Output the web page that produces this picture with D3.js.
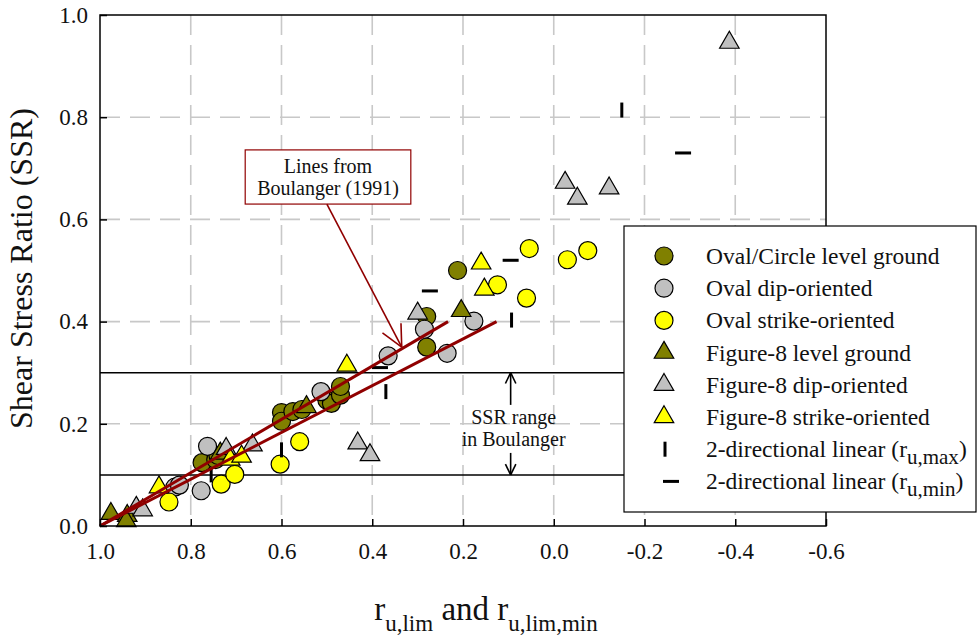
<!DOCTYPE html>
<html>
<head>
<meta charset="utf-8">
<script src="https://cdn.jsdelivr.net/npm/d3@7"></script>
<style>
  body { margin: 0; background: #fff; }
  svg text { font-family: "Liberation Serif", "Times New Roman", serif; fill: #111; }
</style>
</head>
<body>
<svg id="chart" width="978" height="643"></svg>
<script>
// ---- data: [r_u,lim , SSR] ----
var ovalLevel  = [[0.775,0.124],[0.745,0.130],[0.74,0.138],[0.60,0.222],[0.60,0.205],[0.575,0.224],[0.555,0.228],
                  [0.50,0.246],[0.49,0.240],[0.47,0.256],[0.47,0.273],[0.28,0.41],[0.28,0.35],[0.212,0.50]];
var ovalDip    = [[0.835,0.076],[0.825,0.080],[0.777,0.069],[0.763,0.156],[0.513,0.263],[0.365,0.333],
                  [0.285,0.385],[0.235,0.338],[0.176,0.401]];
var ovalStrike = [[0.848,0.047],[0.733,0.082],[0.703,0.101],[0.603,0.121],[0.56,0.165],[0.124,0.472],
                  [0.06,0.446],[0.054,0.543],[-0.03,0.521],[-0.075,0.539]];
var fig8Level  = [[0.976,0.024],[0.94,0.020],[0.942,0.010],[0.735,0.142],[0.545,0.233],[0.204,0.421]];
var fig8Dip    = [[0.92,0.036],[0.906,0.031],[0.722,0.151],[0.664,0.158],[0.432,0.162],[0.405,0.139],
                  [0.30,0.416],[-0.025,0.672],[-0.052,0.641],[-0.122,0.661],[-0.387,0.946]];
var fig8Strike = [[0.87,0.076],[0.713,0.130],[0.688,0.136],[0.456,0.314],[0.16,0.514],[0.153,0.463]];
var ruMax      = [[0.755,0.100],[0.60,0.149],[0.37,0.263],[0.093,0.403],[-0.15,0.814]];
var ruMin      = [[0.383,0.310],[0.273,0.460],[0.095,0.520],[-0.285,0.730]];

// Boulanger (1991) lines
var boulangerUpper = [[1.0,0.0],[0.233,0.40]];
var boulangerLower = [[1.0,0.0],[0.126,0.40]];
var ssrRange = [0.1, 0.3];

var xTicks = [1.0,0.8,0.6,0.4,0.2,0.0,-0.2,-0.4,-0.6];
var yTicks = [0.0,0.2,0.4,0.6,0.8,1.0];

var legendLabels = ["Oval/Circle level ground","Oval dip-oriented","Oval strike-oriented",
                    "Figure-8 level ground","Figure-8 dip-oriented","Figure-8 strike-oriented"];

var olive = "#808000", grey = "#c0c0c0", yellow = "#ffff00", darkRed = "#900000";

var margin = {top: 15, left: 100};
var w = 726, h = 511;

var svg = d3.select("#chart");
var g = svg.append("g").attr("transform", "translate(" + margin.left + "," + margin.top + ")");

var x = d3.scaleLinear().domain([1.0, -0.6]).range([0, w]);
var y = d3.scaleLinear().domain([0, 1.0]).range([h, 0]);

// grid
g.append("g").selectAll("line")
  .data(xTicks.slice(1, -1))
  .enter().append("line")
    .attr("x1", d => x(d)).attr("x2", d => x(d))
    .attr("y1", 0).attr("y2", h)
    .attr("stroke", "#c8c8c8").attr("stroke-width", 1.6)
    .attr("stroke-dasharray", "20,10");
g.append("g").selectAll("line")
  .data(yTicks.slice(1, -1))
  .enter().append("line")
    .attr("x1", 0).attr("x2", w)
    .attr("y1", d => y(d)).attr("y2", d => y(d))
    .attr("stroke", "#c8c8c8").attr("stroke-width", 1.6)
    .attr("stroke-dasharray", "20,10");

// SSR range lines
g.append("g").selectAll("line")
  .data(ssrRange)
  .enter().append("line")
    .attr("x1", 0).attr("x2", w)
    .attr("y1", d => y(d)).attr("y2", d => y(d))
    .attr("stroke", "#000").attr("stroke-width", 1.5);

// markers
function circles(data, fill) {
  g.append("g").selectAll("circle")
    .data(data)
    .enter().append("circle")
      .attr("cx", d => x(d[0])).attr("cy", d => y(d[1]))
      .attr("r", 9)
      .attr("fill", fill).attr("stroke", "#000").attr("stroke-width", 1.2);
}
var tri = d3.symbol().type(d3.symbolTriangle).size(165);
function triangles(data, fill) {
  g.append("g").selectAll("path")
    .data(data)
    .enter().append("path")
      .attr("d", tri)
      .attr("transform", d => "translate(" + x(d[0]) + "," + y(d[1]) + ")")
      .attr("fill", fill).attr("stroke", "#000").attr("stroke-width", 1.2);
}
circles(ovalLevel, olive);
circles(ovalDip, grey);
circles(ovalStrike, yellow);
triangles(fig8Level, olive);
triangles(fig8Dip, grey);
triangles(fig8Strike, yellow);

g.append("g").selectAll("rect")
  .data(ruMax)
  .enter().append("rect")
    .attr("x", d => x(d[0]) - 1.5).attr("y", d => y(d[1]) - 7.5)
    .attr("width", 3).attr("height", 15).attr("fill", "#000");
g.append("g").selectAll("rect")
  .data(ruMin)
  .enter().append("rect")
    .attr("x", d => x(d[0]) - 8).attr("y", d => y(d[1]) - 1.5)
    .attr("width", 16).attr("height", 3).attr("fill", "#000");

// Boulanger lines
var line = d3.line().x(d => x(d[0])).y(d => y(d[1]));
[boulangerUpper, boulangerLower].forEach(function (d) {
  g.append("path").attr("d", line(d))
    .attr("fill", "none").attr("stroke", darkRed).attr("stroke-width", 3);
});

// annotation: Lines from Boulanger (1991)
var boxL = x(0.680), boxR = x(0.315), boxT = y(0.736), boxB = y(0.630);
g.append("rect")
  .attr("x", boxL).attr("y", boxT).attr("width", boxR - boxL).attr("height", boxB - boxT)
  .attr("fill", "#fff").attr("stroke", darkRed).attr("stroke-width", 1.2);
g.append("text").attr("x", (boxL + boxR) / 2).attr("y", boxT + 23)
  .attr("text-anchor", "middle").style("font-size", "20px").text("Lines from");
g.append("text").attr("x", (boxL + boxR) / 2).attr("y", boxT + 45)
  .attr("text-anchor", "middle").style("font-size", "20px").text("Boulanger (1991)");

function arrow(x1, y1, x2, y2, color, headLen, width) {
  var a = Math.atan2(y2 - y1, x2 - x1), s = 0.45;
  g.append("line").attr("x1", x1).attr("y1", y1).attr("x2", x2).attr("y2", y2)
    .attr("stroke", color).attr("stroke-width", width);
  [a + Math.PI - s, a + Math.PI + s].forEach(function (b) {
    g.append("line").attr("x1", x2).attr("y1", y2)
      .attr("x2", x2 + headLen * Math.cos(b)).attr("y2", y2 + headLen * Math.sin(b))
      .attr("stroke", color).attr("stroke-width", width);
  });
}
arrow(x(0.50), boxB, x(0.335), y(0.35), darkRed, 24, 1.6);

// SSR range annotation
var ax = x(0.095);
arrow(ax, y(0.237), ax, y(ssrRange[1]), "#000", 12, 1.6);
arrow(ax, y(0.143), ax, y(ssrRange[0]), "#000", 12, 1.6);
g.append("text").attr("x", ax + 3).attr("y", y(0.2) + 0)
  .attr("text-anchor", "middle").style("font-size", "20px").text("SSR range");
g.append("text").attr("x", ax + 3).attr("y", y(0.2) + 22)
  .attr("text-anchor", "middle").style("font-size", "20px").text("in Boulanger");

// frame
g.append("rect").attr("width", w).attr("height", h)
  .attr("fill", "none").attr("stroke", "#000").attr("stroke-width", 1.5);

// axes
var xAxis = d3.axisBottom(x).tickValues(xTicks).tickSize(-7).tickPadding(17)
  .tickFormat(d => d.toFixed(1));
var yAxis = d3.axisLeft(y).tickValues(yTicks).tickSize(-7).tickPadding(12)
  .tickFormat(d => d.toFixed(1));
var gx = g.append("g").attr("transform", "translate(0," + h + ")").call(xAxis);
var gy = g.append("g").call(yAxis);
[gx, gy].forEach(function (a) {
  a.select(".domain").remove();
  a.selectAll(".tick line").attr("stroke", "#000").attr("stroke-width", 1.5);
  a.selectAll("text").style("font-size", "23px").attr("fill", "#111")
    .style("font-family", "'Liberation Serif', serif");
});

// legend
var lg = svg.append("g");
lg.append("rect").attr("x", 624).attr("y", 226).attr("width", 352).attr("height", 286)
  .attr("fill", "#fff").attr("stroke", "#000").attr("stroke-width", 1.2);
var legendFills = [olive, grey, yellow, olive, grey, yellow];
legendLabels.forEach(function (lab, i) {
  var cy = 256 + i * 32.2;
  if (i < 3) {
    lg.append("circle").attr("cx", 664).attr("cy", cy).attr("r", 9)
      .attr("fill", legendFills[i]).attr("stroke", "#000").attr("stroke-width", 1.2);
  } else {
    lg.append("path").attr("d", tri).attr("transform", "translate(664," + cy + ")")
      .attr("fill", legendFills[i]).attr("stroke", "#000").attr("stroke-width", 1.2);
  }
  lg.append("text").attr("x", 706).attr("y", cy + 8).style("font-size", "23.5px").text(lab);
});
var cyMax = 256 + 6 * 32.2, cyMin = 256 + 7 * 32.2;
lg.append("rect").attr("x", 663.5).attr("y", cyMax - 7.5).attr("width", 3).attr("height", 15).attr("fill", "#000");
lg.append("rect").attr("x", 663).attr("y", cyMin - 1.5).attr("width", 16).attr("height", 3).attr("fill", "#000");
[["u,max", cyMax], ["u,min", cyMin]].forEach(function (p) {
  var t = lg.append("text").attr("x", 706).attr("y", p[1] + 8).style("font-size", "23.5px");
  t.append("tspan").text("2-directional linear (r");
  t.append("tspan").attr("dy", 7).style("font-size", "21px").text(p[0]);
  t.append("tspan").attr("dy", -7).text(")");
});

// axis titles
svg.append("text")
  .attr("transform", "translate(32," + (margin.top + h / 2 - 2) + ") rotate(-90)")
  .attr("text-anchor", "middle").style("font-size", "32px").text("Shear Stress Ratio (SSR)");
var xt = svg.append("text").attr("x", 486).attr("y", 620)
  .attr("text-anchor", "middle").style("font-size", "33px");
xt.append("tspan").text("r");
xt.append("tspan").attr("dy", 11).style("font-size", "23px").text("u,lim");
xt.append("tspan").attr("dy", -11).text(" and r");
xt.append("tspan").attr("dy", 11).style("font-size", "23px").text("u,lim,min");
</script>
</body>
</html>
